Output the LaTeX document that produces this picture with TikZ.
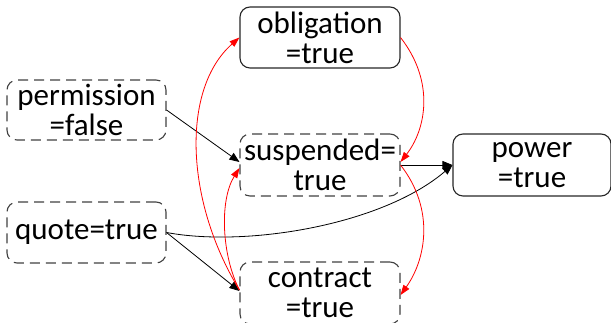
\documentclass[tikz,border=0pt]{standalone}
\usepackage{fontspec}
\setmainfont{Carlito}
\usetikzlibrary{arrows.meta}
\tikzset{
  box/.style={rectangle, rounded corners=10pt, minimum width=160pt, minimum height=61pt,
    inner sep=0pt, align=center, font=\fontsize{31}{30}\selectfont, line width=1.1pt},
  solidbox/.style={box, draw=black!85},
  dashbox/.style={box, draw=black!75, dash pattern=on 10pt off 6pt},
  blk/.style={draw=black, line width=0.8pt, -{Triangle[length=10pt,width=8pt]}},
  redc/.style={draw=red, line width=0.8pt, -{Triangle[length=10pt,width=7pt]}, fill=none},
}
\begin{document}
\begin{tikzpicture}[x=1pt,y=1pt]
\useasboundingbox (0,0) rectangle (611,323);
\clip (0,0) rectangle (611,323);
\node[solidbox] (obl) at (320,285.5) {obligation\\=true};
\node[dashbox, minimum width=159pt, minimum height=60pt] (perm) at (86.5,213) {permission\\=false};
\node[dashbox, minimum height=62pt] (susp) at (320,158) {suspended=\\true};
\node[solidbox, minimum width=158pt, minimum height=62pt] (power) at (532,158) {power\\=true};
\node[dashbox, minimum width=159pt] (quote) at (86.5,90.5) {quote=true};
\node[dashbox, minimum height=62pt] (contract) at (320,30) {contract\\=true};
% black connectors
\draw[blk] (perm.east) -- ([yshift=3pt]susp.west);
\draw[blk] (quote.east) -- ([yshift=2pt]contract.west);
\draw[blk] (susp.east) -- (power.west);
\draw[blk] (quote.east) .. controls +(80,-15) and +(-70,-60) .. (power.west);
% red connectors
\draw[redc] (obl.east) .. controls +(35,-45) and +(25,32) .. ([yshift=3pt]susp.east);
\draw[redc] (susp.east) .. controls +(35,-45) and +(25,35) .. ([yshift=-2pt]contract.east);
\draw[redc] ([yshift=3pt]contract.west) .. controls +(-55,90) and +(-58,-51) .. (obl.west);
\draw[redc] ([yshift=3pt]contract.west) .. controls +(-18,35) and +(-20,-32) .. ([yshift=-3pt]susp.west);
\end{tikzpicture}
\end{document}
